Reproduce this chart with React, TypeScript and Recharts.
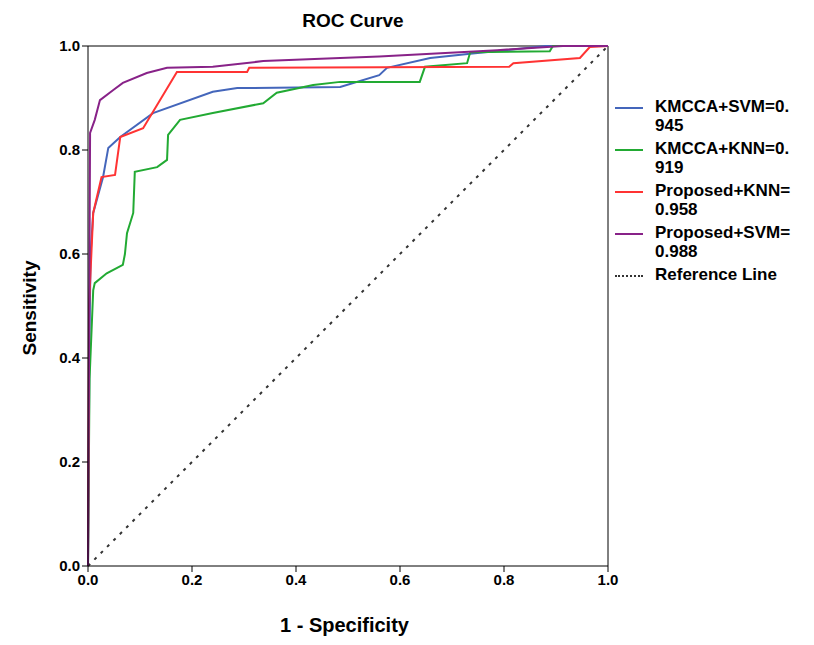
import { LineChart, Line, XAxis, YAxis, ReferenceLine } from "recharts";

const svmKmcca = [[0,0],[0.003,0.45],[0.005,0.6],[0.01,0.679],[0.029,0.748],[0.039,0.804],[0.062,0.825],[0.125,0.871],[0.24,0.912],[0.287,0.919],[0.485,0.921],[0.56,0.944],[0.575,0.958],[0.658,0.977],[0.735,0.985],[0.88,1],[1,1]];
const knnKmcca = [[0,0],[0.003,0.36],[0.01,0.53],[0.013,0.544],[0.036,0.563],[0.067,0.579],[0.071,0.6],[0.075,0.64],[0.087,0.679],[0.09,0.758],[0.133,0.767],[0.152,0.781],[0.154,0.829],[0.177,0.858],[0.24,0.871],[0.337,0.89],[0.363,0.91],[0.433,0.925],[0.485,0.931],[0.638,0.931],[0.648,0.96],[0.729,0.967],[0.735,0.988],[0.888,0.99],[0.894,1],[1,1]];
const knnProposed = [[0,0],[0.002,0.5],[0.01,0.679],[0.026,0.748],[0.052,0.752],[0.062,0.825],[0.106,0.842],[0.171,0.95],[0.306,0.95],[0.31,0.958],[0.81,0.96],[0.818,0.967],[0.946,0.977],[0.965,0.998],[1,1]];
const svmProposed = [[0,0],[0.004,0.833],[0.013,0.858],[0.023,0.896],[0.048,0.915],[0.067,0.929],[0.113,0.948],[0.152,0.958],[0.24,0.96],[0.337,0.971],[0.485,0.977],[0.56,0.98],[0.66,0.985],[0.787,0.992],[0.913,1],[1,1]];
const refLine = [[0,0],[1,1]];
const ticks = [0, 0.2, 0.4, 0.6, 0.8, 1];

const series = [
  { name: "KMCCA+SVM=0.\n945", color: "#4466bb", pts: svmKmcca },
  { name: "KMCCA+KNN=0.\n919", color: "#22aa33", pts: knnKmcca },
  { name: "Proposed+KNN=\n0.958", color: "#ff3333", pts: knnProposed },
  { name: "Proposed+SVM=\n0.988", color: "#882288", pts: svmProposed },
];

const toData = (pts: number[][]) => pts.map(([x, y]) => ({ x, y }));
const font = "'Liberation Sans', Arial, sans-serif";
const tick = { fontSize: 15, fill: "#000", fontFamily: font };

export default function App() {
  return (
    <div style={{ position: "relative", width: 800, height: 630, fontFamily: font, fontWeight: "bold" }}>
      <div style={{ position: "absolute", left: 0, width: 690, top: 2, textAlign: "center", fontSize: 19 }}>ROC Curve</div>
      <LineChart width={800} height={630} margin={{ top: 38, right: 200, left: 40, bottom: 42 }}>
        <XAxis type="number" dataKey="x" domain={[0, 1]} ticks={ticks} tickFormatter={(v) => v.toFixed(1)}
          tick={tick} stroke="#000" allowDuplicatedCategory={false} height={30} />
        <YAxis type="number" dataKey="y" domain={[0, 1]} ticks={ticks} tickFormatter={(v) => v.toFixed(1)}
          tick={tick} stroke="#000" width={40} />
        <ReferenceLine y={1} stroke="#000" />
        <ReferenceLine x={1} stroke="#000" />
        <Line data={toData(refLine)} dataKey="y" stroke="#333" strokeWidth={2} strokeDasharray="3 6" dot={false} isAnimationActive={false} />
        {series.map((s) => (
          <Line key={s.name} data={toData(s.pts)} dataKey="y" type="linear" stroke={s.color} strokeWidth={2} dot={false} isAnimationActive={false} />
        ))}
      </LineChart>
      <div style={{ position: "absolute", left: 22, top: 300, transform: "translate(-50%,-50%) rotate(-90deg)", fontSize: 19 }}>Sensitivity</div>
      <div style={{ position: "absolute", left: 272, top: 606, fontSize: 20 }}>1 - Specificity</div>
      <div style={{ position: "absolute", left: 607, top: 89, fontSize: 17, lineHeight: "19px" }}>
        {series.map((s) => (
          <div key={s.name} style={{ display: "flex", marginBottom: 4 }}>
            <div style={{ width: 28, height: 2, background: s.color, marginTop: 10, marginRight: 12 }} />
            <div style={{ whiteSpace: "pre" }}>{s.name}</div>
          </div>
        ))}
        <div style={{ display: "flex" }}>
          <div style={{ width: 28, borderTop: "2px dotted #333", marginTop: 10, marginRight: 12 }} />
          <div>Reference Line</div>
        </div>
      </div>
    </div>
  );
}
